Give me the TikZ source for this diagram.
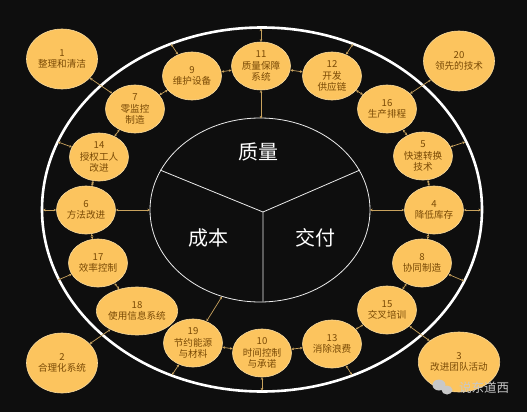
\documentclass[tikz,border=0pt]{standalone}
\usepackage{fontspec}
\setmainfont{Noto Sans CJK SC}
\usetikzlibrary{arrows.meta,shapes.geometric}
\definecolor{bg}{HTML}{0E0E0E}
\definecolor{nodefill}{HTML}{FCC45E}
\definecolor{nodeedge}{HTML}{F8D99A}
\definecolor{nodetext}{HTML}{7A4A05}
\definecolor{linkcol}{HTML}{C9A35E}
\definecolor{wmark}{HTML}{C8C8C8}
\begin{document}
\begin{tikzpicture}[x=1pt,y=-1pt,
  bub/.style={ellipse,fill=nodefill,draw=nodeedge,line width=0.6pt,
    minimum width=59pt,minimum height=48pt,inner sep=0pt,align=center,
    text=nodetext,font=\fontsize{9.6}{11.6}\selectfont},
  bigbub/.style={bub,minimum width=71pt,minimum height=60pt},
  link/.style={draw=linkcol,line width=0.7pt,
    {Stealth[length=2.6pt,width=2.6pt]}-{Stealth[length=2.6pt,width=2.6pt]},
    shorten <=0pt,shorten >=0pt},
  biglabel/.style={text=white,font=\fontsize{20}{24}\selectfont}]
\fill[bg] (0,0) rectangle (527,412);
\useasboundingbox (0,0) rectangle (527,412);

% rings
\draw[white,line width=2.6pt] (262,209.5) ellipse [x radius=220,y radius=182];
\draw[white!92!black,line width=0.8pt] (260,210) ellipse [x radius=110,y radius=92];
\coordinate (c) at (263,212);
\coordinate (d1) at (160,170);
\coordinate (d2) at (360,170);
\coordinate (d3) at (263,301.5);
\draw[white!92!black,line width=0.8pt] (c) -- (d1) (c) -- (d2) (c) -- (d3);

\node[biglabel] (lq) at (258,152) {质量};
\node[biglabel] (lc) at (208,238) {成本};
\node[biglabel] (ld) at (315,238) {交付};

% nodes
\node[bigbub] (n1) at (62,59) {1\\整理和清洁};
\node[bigbub] (n20) at (459,61) {20\\领先的技术};
\node[bigbub] (n2) at (62,363) {2\\合理化系统};
\node[bigbub] (n3) at (459,362) {3\\改进团队活动};

\node[bub] (n9) at (192,76) {9\\维护设备};
\node[bub] (n11) at (261,66) {11\\质量保障\\系统};
\node[bub] (n12) at (332,76) {12\\开发\\供应链};
\node[bub] (n16) at (387,109) {16\\生产排程};
\node[bub] (n5) at (423,156) {5\\快速转换\\技术};
\node[bub] (n4) at (434,210) {4\\降低库存};
\node[bub] (n8) at (422,263) {8\\协同制造};
\node[bub] (n15) at (387,310) {15\\交叉培训};
\node[bub] (n13) at (332,344) {13\\消除浪费};
\node[bub] (n10) at (262,353) {10\\时间控制\\与承诺};
\node[bub] (n19) at (193,343) {19\\节约能源\\与材料};
\node[bub] (n18) at (137,311) {18\\使用信息系统};
\node[bub] (n17) at (98,263) {17\\效率控制};
\node[bub] (n6) at (86,210) {6\\方法改进};
\node[bub] (n14) at (99,157) {14\\授权工人\\改进};
\node[bub] (n7) at (135,109) {7\\零监控\\制造};

% ring anchor points
\coordinate (o9) at (171,44);
\coordinate (o11) at (261,28.5);
\coordinate (o12) at (353,44);
\coordinate (o5) at (465,142);
\coordinate (o4) at (481,210);
\coordinate (o8) at (464,281);
\coordinate (o13) at (352,375);
\coordinate (o10) at (262,390.5);
\coordinate (o19) at (172,375);
\coordinate (o17) at (58,280);
\coordinate (o6) at (43,210);
\coordinate (o14) at (58,142);
\coordinate (i11) at (261,118.5);
\coordinate (i4) at (370,210);
\coordinate (i6) at (150,210);
\coordinate (i19) at (222,296.5);

% connectors to rings
\draw[link] (n9) -- (o9);
\draw[link] (n11) -- (o11);
\draw[link] (n11) -- (i11);
\draw[link] (n12) -- (o12);
\draw[link] (n5) -- (o5);
\draw[link] (n4) -- (o4);
\draw[link] (n4) -- (i4);
\draw[link] (n8) -- (o8);
\draw[link] (n13) -- (o13);
\draw[link] (n10) -- (o10);
\draw[link] (n19) -- (o19);
\draw[link] (n19) -- (i19);
\draw[link] (n17) -- (o17);
\draw[link] (n6) -- (o6);
\draw[link] (n6) -- (i6);
\draw[link] (n14) -- (o14);

% node-node connectors
\draw[link] (n1) -- (n7);
\draw[link] (n7) -- (n9);
\draw[link] (n9) -- (n11);
\draw[link] (n11) -- (n12);
\draw[link] (n12) -- (n16);
\draw[link] (n20) -- (n16);
\draw[link] (n16) -- (n5);
\draw[link] (n5) -- (n4);
\draw[link] (n4) -- (n8);
\draw[link] (n8) -- (n15);
\draw[link] (n3) -- (n15);
\draw[link] (n15) -- (n13);
\draw[link] (n13) -- (n10);
\draw[link] (n10) -- (n19);
\draw[link] (n2) -- (n18);
\draw[link] (n18) -- (n17);
\draw[link] (n17) -- (n6);
\draw[link] (n6) -- (n14);
\draw[link] (n14) -- (n7);

% watermark
\fill[wmark] (439,385) ellipse [x radius=6.5,y radius=5.5];
\fill[wmark] (447,390) ellipse [x radius=5.5,y radius=4.5];
\node[text=wmark,font=\fontsize{12.5}{14}\selectfont] (wm) at (484,388) {说东道西};
\end{tikzpicture}
\end{document}
